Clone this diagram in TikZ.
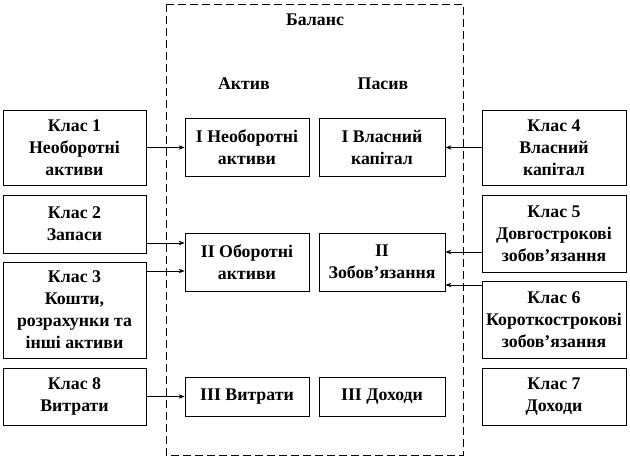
\documentclass[tikz,border=0pt]{standalone}
\usepackage{fontspec}
\setmainfont{Liberation Serif}
\usepackage{tikz}
\usetikzlibrary{arrows.meta}
\tikzset{box/.style={draw, rectangle, line width=0.8pt, inner sep=1pt, align=center, font=\bfseries\fontsize{17.8}{22}\selectfont}}
\tikzset{head/.style={font=\bfseries\fontsize{17.8}{22}\selectfont}}
\tikzset{arr/.style={-{Stealth[length=6pt,width=4.5pt]}, line width=0.8pt}}

\begin{document}
\begin{tikzpicture}[x=1pt, y=-1pt]
\useasboundingbox (0,0) rectangle (630,458);

%%Balance frame
\draw[dash pattern=on 8pt off 4pt, line width=0.8pt] (166,4) rectangle (463,455);
\node[head] (balans) at (315,20) {Баланс};
\node[head] (aktyv) at (244,84) {Актив};
\node[head] (pasyv) at (383,84) {Пасив};

%%Left classes
\node[box, minimum width=143pt, minimum height=75pt] (k1) at (74.5,147.5) {Клас 1\\Необоротні\\активи};
\node[box, minimum width=143pt, minimum height=58pt] (k2) at (74.5,224) {Клас 2\\Запаси};
\node[box, minimum width=143pt, minimum height=96pt] (k3) at (74.5,310) {Клас 3\\Кошти,\\розрахунки та\\інші активи};
\node[box, minimum width=143pt, minimum height=57pt] (k8) at (74.5,396.5) {Клас 8\\Витрати};

%%Assets
\node[box, minimum width=124pt, minimum height=58pt] (a1) at (247,147) {I Необоротні\\активи};
\node[box, minimum width=124pt, minimum height=58pt] (a2) at (247,262) {II Оборотні\\активи};
\node[box, minimum width=124pt, minimum height=39pt] (a3) at (247,396.5) {III Витрати};

%%Liabilities
\node[box, minimum width=126pt, minimum height=58pt] (p1) at (382,147) {I Власний\\капітал};
\node[box, minimum width=126pt, minimum height=58pt] (p2) at (382,262) {II\\Зобов’язання};
\node[box, minimum width=126pt, minimum height=39pt] (p3) at (382,396.5) {III Доходи};

%%Right classes
\node[box, minimum width=144pt, minimum height=75pt] (k4) at (554,147.5) {Клас 4\\Власний\\капітал};
\node[box, minimum width=144pt, minimum height=77pt] (k5) at (554,233.5) {Клас 5\\Довгострокові\\зобов’язання};
\node[box, minimum width=144pt, minimum height=77pt] (k6) at (554,319.5) {Клас 6\\Короткострокові\\зобов’язання};
\node[box, minimum width=144pt, minimum height=57pt] (k7) at (554,396.5) {Клас 7\\Доходи};

%%Arrows
\draw[arr] (k1.east) -- (k1.east -| a1.west);
\draw[arr] ([yshift=-19pt]k2.east) -- ([yshift=-19pt]k2.east -| a2.west);
\draw[arr] ([yshift=39pt]k3.east) -- ([yshift=39pt]k3.east -| a2.west);
\draw[arr] (k8.east) -- (k8.east -| a3.west);
\draw[arr] (k4.west) -- (k4.west -| p1.east);
\draw[arr] ([yshift=-18.5pt]k5.west) -- ([yshift=-18.5pt]k5.west -| p2.east);
\draw[arr] ([yshift=34.5pt]k6.west) -- ([yshift=34.5pt]k6.west -| p2.east);

\end{tikzpicture}
\end{document}
